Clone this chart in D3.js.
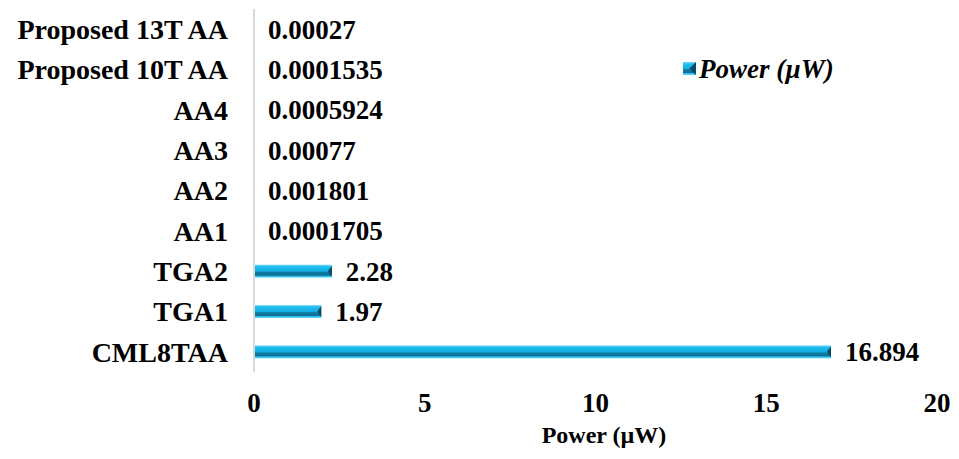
<!DOCTYPE html>
<html>
<head>
<meta charset="utf-8">
<script src="https://cdn.jsdelivr.net/npm/d3@7/dist/d3.min.js"></script>
<style>
  body { margin: 0; background: #fff; }
  text { font-family: "Liberation Serif", "Times New Roman", serif; font-weight: bold; fill: #000; }
</style>
</head>
<body>
<div id="chart"></div>
<script>
// data, top row first as in the picture
var categories = ["Proposed 13T AA", "Proposed 10T AA", "AA4", "AA3", "AA2", "AA1", "TGA2", "TGA1", "CML8TAA"]
var power_values = [0.00027, 0.0001535, 0.0005924, 0.00077, 0.001801, 0.0001705, 2.28, 1.97, 16.894]
var x_ticks = [0, 5, 10, 15, 20]
var series_name = "Power (\u00b5W)"
var axis_title = "Power (\u00b5W)"

var width = 959,
    height = 459

var svg = d3.select("#chart")
    .append("svg")
    .attr("width", width)
    .attr("height", height)

// bevel look of the bars
var defs = svg.append("defs")
var grad = defs.append("linearGradient")
    .attr("id", "barGrad")
    .attr("x1", 0).attr("y1", 0).attr("x2", 0).attr("y2", 1)
grad.append("stop").attr("offset", "0%").attr("stop-color", "#7fdcfa")
grad.append("stop").attr("offset", "15%").attr("stop-color", "#22bdf0")
grad.append("stop").attr("offset", "50%").attr("stop-color", "#12aee3")
grad.append("stop").attr("offset", "58%").attr("stop-color", "#0d7ea6")
grad.append("stop").attr("offset", "82%").attr("stop-color", "#0b6d91")
grad.append("stop").attr("offset", "88%").attr("stop-color", "#2cc2f2")
grad.append("stop").attr("offset", "100%").attr("stop-color", "#5fd2f7")

var x = d3.scaleLinear().domain([0, 20]).range([254, 937])
var y = d3.scaleBand().domain(categories).range([9, 372])
    .paddingInner(0.68).paddingOuter(0.34)

function val(d){return power_values[categories.indexOf(d)]}

// vertical axis line
svg.append("line")
    .attr("x1", x(0)).attr("x2", x(0))
    .attr("y1", 9).attr("y2", 372)
    .attr("stroke", "#d9d9d9")
    .attr("stroke-width", 2)

// bars
var bars = svg.selectAll(".bar")
    .data(categories)
    .enter()
    .append("g")
    .attr("class", "bar")

bars.append("rect")
    .attr("x", x(0) + 1)
    .attr("y", function(d){return y(d)})
    .attr("width", function(d){return Math.max(0, x(val(d)) - x(0) - 1)})
    .attr("height", y.bandwidth())
    .attr("fill", "url(#barGrad)")

// dark end cap
bars.filter(function(d){return x(val(d)) - x(0) > 6})
    .append("path")
    .attr("d", function(d){
        var xe = x(val(d)), y0 = y(d), h = y.bandwidth()
        return "M" + (xe - 4) + "," + (y0 + h * 0.5) + "L" + xe + "," + (y0 + 1) +
               "L" + xe + "," + (y0 + h - 1) + "Z"
    })
    .attr("fill", "#0a4a62")

// value labels
svg.selectAll(".val")
    .data(categories)
    .enter()
    .append("text")
    .attr("class", "val")
    .attr("x", function(d){return x(val(d)) + 14})
    .attr("y", function(d){return y(d) + y.bandwidth() / 2})
    .attr("dy", "0.35em")
    .style("font-size", "27px")
    .text(function(d){return String(val(d))})

// category labels
svg.selectAll(".cat")
    .data(categories)
    .enter()
    .append("text")
    .attr("class", "cat")
    .attr("x", 228)
    .attr("y", function(d){return y(d) + y.bandwidth() / 2})
    .attr("dy", "0.35em")
    .attr("text-anchor", "end")
    .style("font-size", "28px")
    .text(function(d){return d})

// x tick labels
svg.selectAll(".tick_lab")
    .data(x_ticks)
    .enter()
    .append("text")
    .attr("class", "tick_lab")
    .attr("x", function(d){return x(d)})
    .attr("y", 412)
    .attr("text-anchor", "middle")
    .style("font-size", "27px")
    .text(function(d){return d})

// axis title
svg.append("text")
    .attr("x", 604)
    .attr("y", 443)
    .attr("text-anchor", "middle")
    .style("font-size", "24px")
    .text(axis_title)

// legend
svg.append("rect")
    .attr("x", 683).attr("y", 62)
    .attr("width", 13).attr("height", 13)
    .attr("fill", "url(#barGrad)")
svg.append("path")
    .attr("d", "M689.5,68.5L696,62L696,75Z")
    .attr("fill", "#0a4a62")
svg.append("text")
    .attr("x", 699)
    .attr("y", 78)
    .style("font-size", "27px")
    .style("font-style", "italic")
    .text(series_name)
</script>
</body>
</html>
